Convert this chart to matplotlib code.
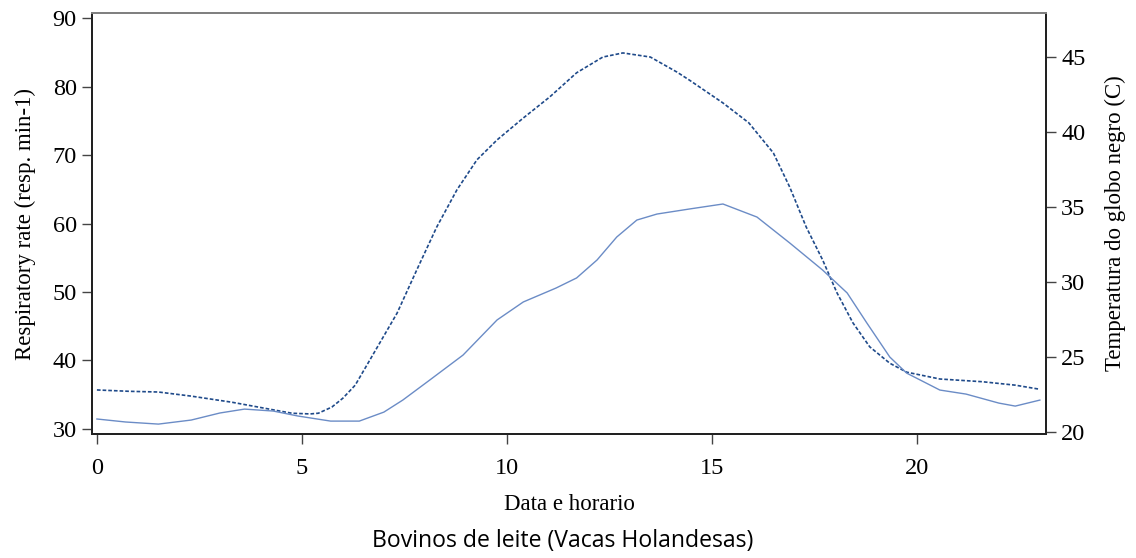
import matplotlib
matplotlib.use("Agg")
import matplotlib.pyplot as plt

# Respiratory rate (left axis), dashed curve
hours_rr = [0.0, 0.8, 1.5, 2.3, 3.3, 4.3, 4.76, 5.2, 5.4, 5.73, 6.0, 6.3, 6.66, 7.32,
            7.8, 8.29, 8.78, 9.27, 9.76, 10.4, 11.05, 11.7, 12.34, 12.83, 13.5,
            14.15, 14.46, 15.27, 15.9, 16.5, 16.9, 17.3, 17.7, 18.05, 18.44,
            18.85, 19.34, 19.75, 20.56, 21.6, 22.4, 23.0]
resp_rate = [35.7, 35.5, 35.4, 34.8, 33.9, 32.8, 32.3, 32.2, 32.3, 33.2, 34.5, 36.4,
             40.1, 46.9, 53.2, 59.5, 64.9, 69.3, 72.2, 75.4, 78.5, 82.0, 84.3,
             84.9, 84.3, 82.1, 80.9, 77.6, 74.7, 70.3, 65.3, 59.5, 54.7, 49.9,
             45.5, 42.0, 39.6, 38.3, 37.3, 36.9, 36.4, 35.8]

# Black globe temperature (right axis), solid curve
hours_tg = [0.0, 0.7, 1.5, 2.3, 3.0, 3.6, 4.3, 4.9, 5.7, 6.4, 7.0, 7.46, 8.12, 8.93,
            9.76, 10.4, 11.2, 11.7, 12.2, 12.68, 13.17, 13.66, 14.46, 15.27, 16.1,
            16.9, 17.7, 18.3, 18.78, 19.34, 19.75, 20.56, 21.2, 22.0, 22.4, 23.0]
globe_temp = [20.87, 20.67, 20.53, 20.8, 21.27, 21.53, 21.4, 21.07, 20.73, 20.73,
              21.33, 22.13, 23.47, 25.13, 27.47, 28.67, 29.6, 30.27, 31.47, 33.0,
              34.13, 34.53, 34.87, 35.2, 34.33, 32.6, 30.8, 29.27, 27.27, 25.0,
              23.93, 22.8, 22.53, 21.93, 21.73, 22.13]

x_ticks = [0, 5, 10, 15, 20]
left_ticks = [30, 40, 50, 60, 70, 80, 90]
right_ticks = [20, 25, 30, 35, 40, 45]

plt.rcParams['font.family'] = ['Liberation Serif', 'DejaVu Serif']

fig = plt.figure(figsize=(11.36, 5.58), dpi=100)
ax = fig.add_axes([92/1136, 1-434/558, (1046-92)/1136, (434-13)/558])
ax2 = ax.twinx()

ax.plot(hours_rr, resp_rate, color='#1f4a8a', lw=1.2, ls=(0, (2.2, 1.2)))
ax2.plot(hours_tg, globe_temp, color='#6b8cc6', lw=1.0)

ax.set_xlim(-0.12, 23.15)
ax.set_ylim(29.27, 90.73)
ax2.set_ylim(19.87, 47.93)

ax.set_xticks(x_ticks)
ax.set_yticks(left_ticks)
ax2.set_yticks(right_ticks)

for a in (ax, ax2):
    a.tick_params(length=7, width=1.0, color='#444444', labelsize=17.5,
                  pad=4, direction='out')
    for s in a.spines.values():
        s.set_linewidth(1.4)
        s.set_color('#222222')
    a.spines['top'].set_color('#808080')

ax.tick_params(axis='x', pad=10)

ax.set_ylabel('Respiratory rate (resp. min-1)', fontsize=16.5, labelpad=12)
ax2.set_ylabel('Temperatura do globo negro (C)', fontsize=16.5, labelpad=14)
ax.set_xlabel('Data e horario', fontsize=16.5, labelpad=11)

fig.text(563/1136, 1-541/558, 'Bovinos de leite (Vacas Holandesas)',
         family=['Open Sans', 'DejaVu Sans'], fontsize=16.6, ha='center', va='center')

fig.savefig('out.png', dpi=100)
